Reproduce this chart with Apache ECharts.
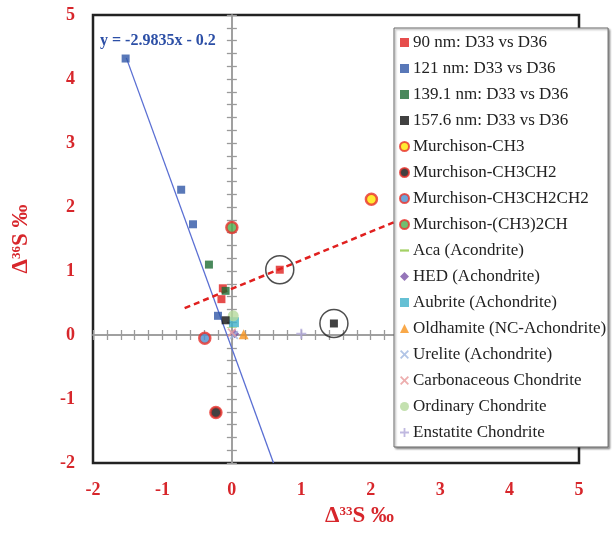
<!DOCTYPE html>
<html><head><meta charset="utf-8">
<script src="https://cdn.jsdelivr.net/npm/echarts@6/dist/echarts.min.js"></script>
<style>html,body{margin:0;padding:0;background:#fff}#c{width:614px;height:534px}</style>
</head><body><div id="c"></div>
<script>
// ---- data ----
const xTicks = [-2,-1,0,1,2,3,4,5];
const yTicks = [-2,-1,0,1,2,3,4,5];
const nm90  = [[-0.13,0.73],[-0.15,0.56],[0.69,1.02]];
const nm121 = [[-1.53,4.32],[-0.73,2.27],[-0.56,1.73],[-0.20,0.30]];
const nm139 = [[-0.33,1.10],[-0.09,0.69]];
const nm157 = [[-0.09,0.23],[1.47,0.18]];
const murCH3 = [[2.01,2.12]];
const murCH3CH2 = [[-0.23,-1.21]];
const murCH3CH2CH2 = [[-0.39,-0.05]];
const murCH32CH = [[0.00,1.68]];
const aca = [[0.0,0.12]];
const hed = [[0.04,0.02]];
const aubrite = [[0.03,0.20]];
const oldhamite = [[0.17,0.01]];
const urelite = [[0.03,0.0]];
const carbonaceous = [[0.0,0.04]];
const ordinary = [[0.02,0.30]];
const enstatite = [[1.0,0.02]];
const fitLine = [[-1.52,4.33],[0.60,-2.0]];
const redTrend = [[-0.68,0.42],[2.33,1.76]];
const circled = [[0.69,1.02],[1.47,0.18]];
const eqText = 'y = -2.9835x - 0.2';

const serif = '"Liberation Serif","DejaVu Serif",serif';
const red = '#d7262b';
const legendNames = ['90 nm: D33 vs D36','121 nm: D33 vs D36','139.1 nm: D33 vs D36','157.6 nm: D33 vs D36',
 'Murchison-CH3','Murchison-CH3CH2','Murchison-CH3CH2CH2','Murchison-(CH3)2CH','Aca (Acondrite)',
 'HED (Achondrite)','Aubrite (Achondrite)','Oldhamite (NC-Achondrite)','Urelite (Achondrite)',
 'Carbonaceous Chondrite','Ordinary Chondrite','Enstatite Chondrite'];

const plusPath = 'path://M4,0H6V4H10V6H6V10H4V6H0V4H4Z';
const xPath = 'path://M1.4,0L5,3.6L8.6,0L10,1.4L6.4,5L10,8.6L8.6,10L5,6.4L1.4,10L0,8.6L3.6,5L0,1.4Z';
const dashPath = 'path://M0,0H10V2.5H0Z';

function sq(name, data, color){
  return {type:'scatter', name, data, symbol:'rect', symbolSize:8, itemStyle:{color}, z:5};
}
function mur(name, data, color){
  return {type:'scatter', name, data, symbol:'circle', symbolSize:11,
    itemStyle:{color, borderColor:'#e8312a', borderWidth:2.5}, z:5};
}
function pt(name, data, symbol, size, color){
  return {type:'scatter', name, data, symbol, symbolSize:size, symbolKeepAspect:true, itemStyle:{color}, z:4};
}

const tickAxisX = pos => ({type:'value', min:-2, max:5, interval:0.2, position:pos,
  axisLine:{show:true, onZero:true, onZeroAxisIndex:0, lineStyle:{color:'#9a9a9a', width:1.5}},
  axisTick:{show:true, length:5, lineStyle:{color:'#9a9a9a', width:1.3}},
  axisLabel:{show:false}, splitLine:{show:false}});
const tickAxisY = pos => ({type:'value', min:-2, max:5, interval:0.2, position:pos,
  axisLine:{show:true, onZero:true, onZeroAxisIndex:0, lineStyle:{color:'#9a9a9a', width:1.5}},
  axisTick:{show:true, length:5, lineStyle:{color:'#9a9a9a', width:1.3}},
  axisLabel:{show:false}, splitLine:{show:false}});

const chart = echarts.init(document.getElementById('c'), null, {renderer:'canvas'});
chart.setOption({
  animation:false,
  backgroundColor:'#fff',
  grid:{left:93, right:35, top:15, bottom:71, show:true, borderColor:'#222', borderWidth:2.5, backgroundColor:'transparent'},
  xAxis:[
    {type:'value', min:-2, max:5, interval:1, position:'bottom',
     axisLine:{show:false, onZero:false}, axisTick:{show:false}, splitLine:{show:false},
     axisLabel:{color:red, fontFamily:serif, fontWeight:'bold', fontSize:18, margin:18,
       formatter:v => xTicks.includes(v) ? String(v) : ''}},
    tickAxisX('top'), tickAxisX('bottom')
  ],
  yAxis:[
    {type:'value', min:-2, max:5, interval:1, position:'left',
     axisLine:{show:false, onZero:false}, axisTick:{show:false}, splitLine:{show:false},
     axisLabel:{color:red, fontFamily:serif, fontWeight:'bold', fontSize:18, margin:18,
       formatter:v => yTicks.includes(v) ? String(v) : ''},
     name:'{a|Δ}{s|36}{a|S ‰}', nameLocation:'middle', nameGap:60, nameRotate:90,
     nameTextStyle:{rich:{a:{color:red, fontFamily:serif, fontWeight:'bold', fontSize:23},
       s:{color:red, fontFamily:serif, fontWeight:'bold', fontSize:13, verticalAlign:'top', padding:[0,0,8,0]}}}},
    tickAxisY('left'), tickAxisY('right')
  ],
  legend:{orient:'vertical', left:394, top:28, width:219, height:418, data:legendNames,
    backgroundColor:'#fff', borderColor:'#666', borderWidth:1,
    shadowColor:'rgba(0,0,0,0.35)', shadowBlur:2, shadowOffsetX:1.5, shadowOffsetY:1.5,
    padding:[6,2,6,5], itemWidth:9, itemHeight:9, itemGap:9, 
    textStyle:{fontFamily:serif, fontSize:17, color:'#222', lineHeight:17, padding:[0,0,0,-1]}},
  graphic:[
    {type:'text', left:100, top:33, z:10, style:{text:eqText, fill:'#2c4fa6', font:'bold 16px '+serif}},
    {type:'text', left:325, top:505, z:10, style:{text:'{a|Δ}{s|33}{a|S ‰}',
      rich:{a:{fill:red, fontFamily:serif, fontWeight:'bold', fontSize:23},
            s:{fill:red, fontFamily:serif, fontWeight:'bold', fontSize:13, verticalAlign:'top', padding:[0,0,8,0]}}}}
  ],
  series:[
    {type:'line', name:'fit', data:fitLine, symbol:'none', lineStyle:{color:'#5a6fd3', width:1.3}, z:3, silent:true},
    {type:'line', name:'trend', data:redTrend, symbol:'none', lineStyle:{color:'#e0201f', width:2.5, type:[6,4]}, z:3, silent:true},
    {type:'scatter', name:'circled', data:circled, symbol:'circle', symbolSize:28,
      itemStyle:{color:'rgba(255,255,255,0)', borderColor:'#222', borderWidth:1.5}, z:6, silent:true},
    sq(legendNames[0], nm90, '#e0201f'),
    sq(legendNames[1], nm121, '#2f56a6'),
    sq(legendNames[2], nm139, '#1d6b33'),
    sq(legendNames[3], nm157, '#111111'),
    mur(legendNames[4], murCH3, '#ffe600'),
    mur(legendNames[5], murCH3CH2, '#111111'),
    mur(legendNames[6], murCH3CH2CH2, '#4a8fd0'),
    mur(legendNames[7], murCH32CH, '#4cae4c'),
    pt(legendNames[8], aca, dashPath, [10,2.5], '#8dc63f'),
    pt(legendNames[9], hed, 'diamond', 9, '#7b52a8'),
    pt(legendNames[10], aubrite, 'rect', 10, '#3fb0c9'),
    pt(legendNames[11], oldhamite, 'triangle', 10, '#f7941d'),
    pt(legendNames[12], urelite, xPath, 9, '#9fb7e0'),
    pt(legendNames[13], carbonaceous, xPath, 9, '#e89a9a'),
    pt(legendNames[14], ordinary, 'circle', 11, '#b5d99c'),
    pt(legendNames[15], enstatite, plusPath, 10, '#b0a8d8')
  ]
});
</script></body></html>
